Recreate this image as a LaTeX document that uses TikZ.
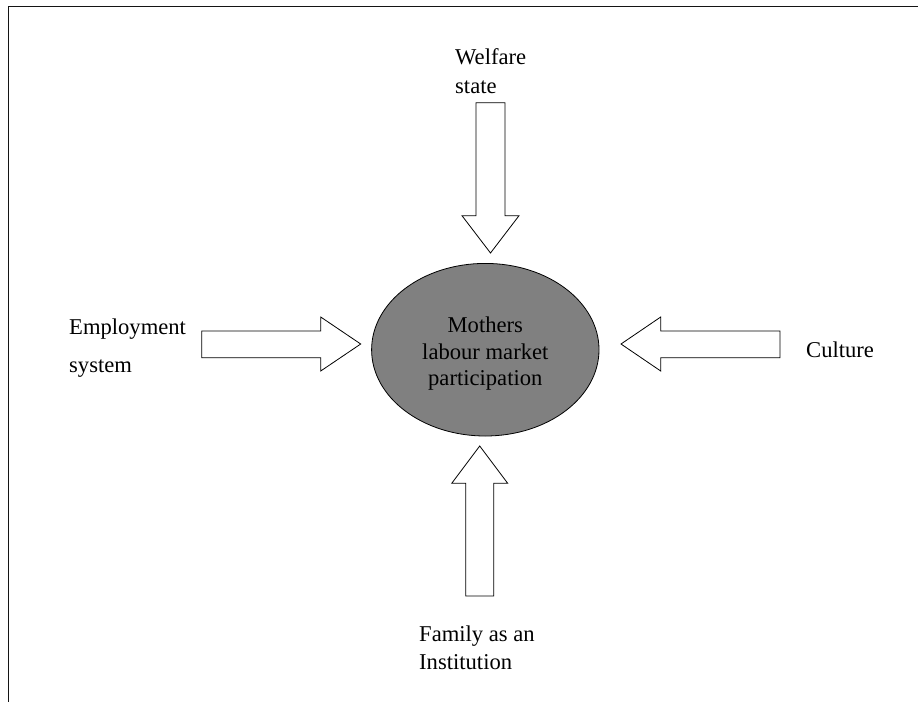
\documentclass[tikz,border=0pt]{standalone}
\usepackage{fontspec}
\setmainfont{Liberation Serif}
\definecolor{ellgray}{RGB}{128,128,128}
\definecolor{framegray}{RGB}{20,20,20}
\begin{document}
\begin{tikzpicture}[x=1pt,y=-1pt,
  lbl/.style={anchor=base west,inner sep=0pt,font=\fontsize{22.6}{28}\selectfont},
  blockarrow/.style={draw=black,fill=white,line width=0.8pt,line join=miter},
  frameline/.style={draw=framegray,line width=1.8pt}]
\useasboundingbox (0,0) rectangle (918,702);
% frame
\draw[frameline] (918,6.5) -- (8.5,6.5) -- (8.5,702);
% central ellipse
\draw[fill=ellgray,line width=0.8pt] (485.3,349.7) ellipse [x radius=113.7, y radius=86.3];
\node (center) at (485.3,349.7) {};
\node[lbl,anchor=base] (m1) at (485.3,332) {Mothers};
\node[lbl,anchor=base] (m2) at (485.3,359) {labour market};
\node[lbl,anchor=base] (m3) at (485.3,385) {participation};
% labels
\node[lbl] (w1) at (455,64) {Welfare};
\node[lbl] (w2) at (455,93) {state};
\node[lbl] (e1) at (69,334) {Employment};
\node[lbl] (e2) at (69,372) {system};
\node[lbl] (c1) at (806,357) {Culture};
\node[lbl] (f1) at (419,641) {Family as an};
\node[lbl] (f2) at (419,669) {Institution};
% top arrow (down)
\draw[blockarrow] (476,102.7) -- (505,102.7) -- (505,215.7) -- (519,215.7) -- (490.5,253)
  -- (462,215.7) -- (476,215.7) -- cycle;
% left arrow (right)
\draw[blockarrow] (201.7,331) -- (320.7,331) -- (320.7,317) -- (360.7,344) -- (320.7,371)
  -- (320.7,357.7) -- (201.7,357.7) -- cycle;
% right arrow (left)
\draw[blockarrow] (780,331) -- (660.7,331) -- (660.7,317) -- (621,344) -- (660.7,371)
  -- (660.7,357.7) -- (780,357.7) -- cycle;
% bottom arrow (up)
\draw[blockarrow] (465.7,596) -- (465.7,483.3) -- (451.7,483.3) -- (479.7,446) -- (507.7,483.3)
  -- (493.7,483.3) -- (493.7,596) -- cycle;
\end{tikzpicture}
\end{document}
